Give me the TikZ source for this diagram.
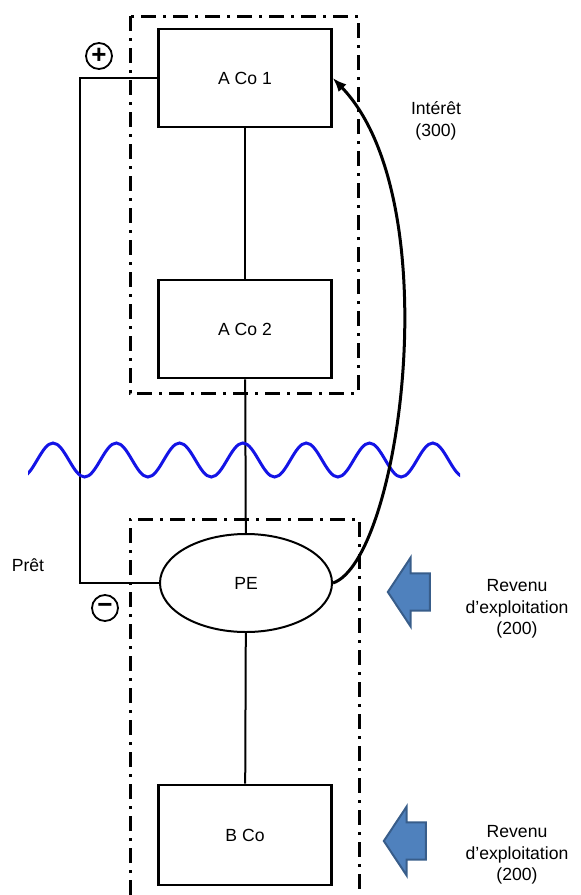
\documentclass[tikz,border=0pt]{standalone}
\usepackage{fontspec}
\setmainfont{Liberation Sans}
\usepackage{xcolor}
\usetikzlibrary{
  arrows.meta,
  shapes.geometric,
  shapes.arrows,
  positioning
}
\definecolor{wblue}{RGB}{20,20,230}
\definecolor{afill}{RGB}{79,129,189}
\definecolor{aedge}{RGB}{56,93,138}
\newcommand{\diagfont}{\fontsize{8.8}{10.8}\selectfont}

\begin{document}
\begin{tikzpicture}[x=0.5pt, y=-0.5pt,
  box/.style={draw, line width=1.3pt, minimum width=86.5pt, minimum height=49pt,
              font=\diagfont},
  pe/.style={draw, ellipse, line width=1pt, minimum width=86pt, minimum height=49pt,
             font=\diagfont},
  link/.style={line width=1pt},
  frame/.style={line width=1.5pt, dash pattern=on 7.5pt off 3.5pt on 1.5pt off 3.5pt},
  wave/.style={wblue, line width=1.5pt},
  curarr/.style={-{Latex[length=7pt,width=5.5pt]}, line width=1.5pt},
  sign/.style={draw, circle, line width=0.9pt, minimum size=13pt, inner sep=0pt,
               font=\fontsize{13}{13}\selectfont\bfseries},
  note/.style={font=\diagfont, align=center},
  revarrow/.style={single arrow, shape border rotate=180, fill=afill, draw=aedge,
                   line width=1pt, minimum height=21pt, inner xsep=0pt, inner ysep=8.8pt,
                   single arrow head extend=8pt, single arrow tip angle=113}
]
  \useasboundingbox (0,0) rectangle (581,895);

  \draw[frame] (130,16) rectangle (358,393);
  \draw[frame] (130,895) -- (130,519) -- (359,519) -- (359,895);

  \node[box] (A1) at (245,78)  {A Co 1};
  \node[box] (A2) at (245,329) {A Co 2};
  \node[pe]  (PE) at (246,583) {PE};
  \node[box, minimum height=50pt] (B) at (245,835) {B Co};

  \draw[link] (A1) -- (A2);
  \draw[link] (A2) -- (PE);
  \draw[link] (PE) -- (B);

  \coordinate (loop) at (80,78);
  \draw[link] (A1.west) -- (loop) |- (PE.west);

  \begin{scope}
    \clip (28,420) rectangle (460,500);
    \draw[wave] (21.35,477)
      \foreach \k in {0,...,6} {
        cos ++(15.825,-17) sin ++(15.825,-17) cos ++(15.825,17) sin ++(15.825,17)
      };
  \end{scope}

  \draw[curarr] (PE.east) .. controls (400,560) and (450,200) .. (A1.east);

  \node[sign] (plus)  at (99,56)  {+};
  \node[sign] (minus) at (105,608) {−};

  \node[note] (pret)    at (28,565)  {Prêt};
  \node[note] (interet) at (436,121) {Intérêt\\(300)};

  \node[revarrow] (arr1) at (415,592) {};
  \node[revarrow] (arr2) at (411,841) {};
  \node[note] (rev1) at (517,609) {Revenu\\d’exploitation\\(200)};
  \node[note] (rev2) at (517,855) {Revenu\\d’exploitation\\(200)};
\end{tikzpicture}
\end{document}
